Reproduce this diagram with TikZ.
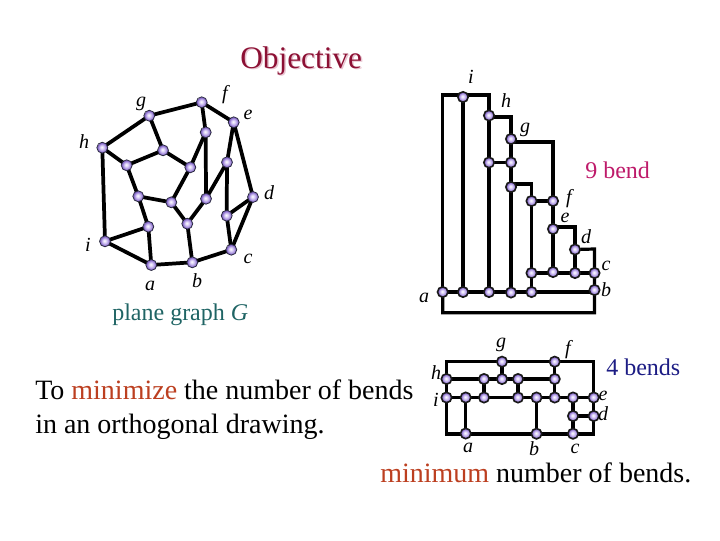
\documentclass[tikz,border=0pt]{standalone}
\usepackage{fontspec}
\setmainfont{Liberation Serif}
\usetikzlibrary{backgrounds}
\definecolor{nodeedge}{HTML}{2A2A40}
\definecolor{lavA}{HTML}{D2C4F4}
\definecolor{lavB}{HTML}{8568C8}
\definecolor{titlered}{HTML}{8C1034}
\definecolor{titleshadow}{HTML}{E8C4D0}
\definecolor{tealtext}{HTML}{1F6464}
\definecolor{redtext}{HTML}{BC3F20}
\definecolor{magtext}{HTML}{BE1A6A}
\definecolor{bluetext}{HTML}{1C1C84}
\pgfdeclareradialshading{nodeball}{\pgfpoint{-3bp}{3bp}}{color(0bp)=(white); color(10bp)=(lavA); color(21bp)=(lavB); color(25bp)=(lavB)}
\tikzset{
 vtx/.style={circle,inner sep=0pt,minimum size=8.2pt,draw=nodeedge,line width=.6pt,shading=nodeball},
 vtxb/.style={vtx,minimum size=7.8pt,line width=1.2pt,draw=black!90},
 edge/.style={line width=2.4pt,draw=black,line cap=round,line join=miter},
 edgea/.style={edge,line width=2.8pt},
 lab/.style={font=\fontsize{15}{16}\selectfont\itshape,inner sep=0pt},
 big/.style={font=\fontsize{21}{23}\selectfont,inner sep=0pt,anchor=base west},
 mid/.style={font=\fontsize{18}{20}\selectfont,inner sep=0pt,anchor=base west}
}
\begin{document}
\begin{tikzpicture}[x=.75pt,y=-.75pt]
\useasboundingbox (0,0) rectangle (720,540);
% ---- plane graph
\foreach \n/\x/\y in {f/201.7/102.3,g/149.3/115.7,e/233.7/122.3,p/205.7/132.3,h/102.3/147.7,q/163/150.3,r/227/162.3,s/126.7/165.3,t/190.3/167.3,u/138.3/196.3,d/253/197,v/206/198.7,w/171.3/202.3,x/226.7/215.7,y/187.3/223.7,z/148.3/226.7,i/105/241.3,c/231.3/249.7,b/192.3/262.3,a/151.3/265}
  \node[vtx] (\n) at (\x,\y) {};
\begin{scope}[on background layer]
\foreach \s/\t in {g/f,f/e,f/p,g/h,g/q,h/s,q/s,q/t,p/t,p/v,e/r,e/d,r/v,r/x,s/u,u/w,u/z,t/w,w/y,v/y,y/b,d/x,d/c,x/c,h/i,i/z,i/a,z/a,a/b,b/c}
  \draw[edgea] (\s.center) -- (\t.center);
\end{scope}
% ---- 9 bend drawing
\foreach \n/\x/\y in {Bi/463/97,Bh/489/115.5,Bg/511/139,Bm/489/162.5,Bn/511/162.5,Bo/511/187,Bp/531.5/201,Bf/553/201,Be/553/229,Bd/575/249.5,Br/531.5/273,Bs/553/272,Bt/575/273,Bc/594.5/273,Ba/442.7/292,Bu/463/292,Bv/489/292,Bw/511/292.5,Bx/531.5/292,Bb/594.5/290}
  \node[vtxb] (\n) at (\x,\y) {};
\coordinate (B1) at (442.7,95);
\coordinate (B2) at (489,95);
\coordinate (B3) at (511,117);
\coordinate (B4) at (553,142);
\coordinate (B5) at (531.5,184);
\coordinate (B6) at (575,227);
\coordinate (B7) at (594.5,249);
\coordinate (B8) at (594.5,312.7);
\coordinate (B9) at (442.7,312.7);
\coordinate (B10) at (594.5,292);
\begin{scope}[on background layer]
\draw[edge] (Ba.center) -- (B1) -- (B2) -- (Bh.center) -- (Bm.center) -- (Bv.center);
\draw[edge] (Ba.center) -- (B9) -- (B8) -- (Bb.center) -- (Bc.center) -- (B7) -- (Bd.center);
\draw[edge] (Bi.center) -- (Bu.center);
\draw[edge] (Bh.center |- B3) -- (B3) -- (Bg.center) -- (Bn.center) -- (Bo.center) -- (Bw.center);
\draw[edge] (Bg.center) -- (B4 -| Bg) -- (B4) -- (Bf.center) -- (Be.center) -- (Bs.center);
\draw[edge] (Bm.center) -- (Bn.center);
\draw[edge] (Bo.center) -- (B5 -| Bo) -- (B5) -- (Bp.center) -- (Bx.center);
\draw[edge] (Bp.center) -- (Bf.center);
\draw[edge] (Be.center) -- (B6 -| Be) -- (B6) -- (Bd.center) -- (Bt.center);
\draw[edge] (Br.center) -- (Bc.center);
\draw[edge] (Ba.center) -- (B10);
\end{scope}
% ---- 4 bends drawing
\foreach \n/\x/\y in {Cg/502/361.7,Cf/554.7/361.7,Ch/446.5/379,Cm/484/379,Cn/502/379,Co/518/379,Cp/554.7/379,Ci/446.5/397.5,Cq/465.7/397.5,Cr/484/397.5,Cs/518/397.5,Ct/536.5/397.5,Cu/554.7/397.5,Cv/573/397.5,Ce/593.7/397.5,Cw/573/416,Cd/593.7/416,Ca/465.7/433.5,Cb/536.5/433.7,Cc/573/433.7}
  \node[vtxb] (\n) at (\x,\y) {};
\coordinate (C1) at (446.5,361.7);
\coordinate (C2) at (593.7,361.7);
\coordinate (C3) at (593.7,434);
\coordinate (C4) at (446.5,434);
\begin{scope}[on background layer]
\draw[edge] (C1) -- (C2) -- (C3) -- (C4) -- cycle;
\draw[edge] (Ch.center) -- (Cp.center);
\draw[edge] (Ci.center) -- (Ce.center);
\draw[edge] (Cg.center) -- (Cn.center);
\draw[edge] (Cf.center) -- (Cp.center) -- (Cu.center);
\draw[edge] (Cm.center) -- (Cr.center);
\draw[edge] (Co.center) -- (Cs.center);
\draw[edge] (Cq.center) -- (Ca.center);
\draw[edge] (Ct.center) -- (Cb.center);
\draw[edge] (Cv.center) -- (Cw.center) -- (Cc.center);
\draw[edge] (Cw.center) -- (Cd.center);
\end{scope}
% ---- vertex labels
\foreach \n/\x/\y/\t in {lg/141/104/g,lf/225/95/f,le/248/115/e,lh/84/142/h,ld/269/193/d,li/88/245/i,lc/248/259/c,lb/197/281/b,la/150/286/a,
 mi/471/77/i,mh/506/101/h,mg/525/130/g,mf/569/199/f,me/565/218/e,md/586/237/d,mc/606/266/c,mb/606/290/b,ma/424/298/a,
 ng/501/345/g,nf/568/350/f,nh/436/373/h,ni/436/400/i,ne/603/396/e,nd/603/414/d,na/468/448/a,nb/534/449/b,nc/575/449/c}
  \node[lab] (\n) at (\x,\y) {\t};
% ---- texts
\node[inner sep=0pt,anchor=base west,font=\fontsize{23.5}{25}\selectfont,text=titleshadow] (objs) at (241.5,69.5) {Objective};
\node[inner sep=0pt,anchor=base west,font=\fontsize{23.5}{25}\selectfont,text=titlered] (obj) at (240,68) {Objective};
\node[mid,text=tealtext] (pg) at (112,320) {plane graph \textit{G}};
\node[big] (l1) at (35,399) {To \textcolor{redtext}{minimize} the number of bends};
\node[big] (l2) at (35,433) {in an orthogonal drawing.};
\node[big] (l3) at (380,482) {\textcolor{redtext}{minimum} number of bends.};
\node[mid,text=magtext] (nine) at (585,178) {9 bend};
\node[mid,text=bluetext] (four) at (606,375) {4 bends};
\end{tikzpicture}
\end{document}
